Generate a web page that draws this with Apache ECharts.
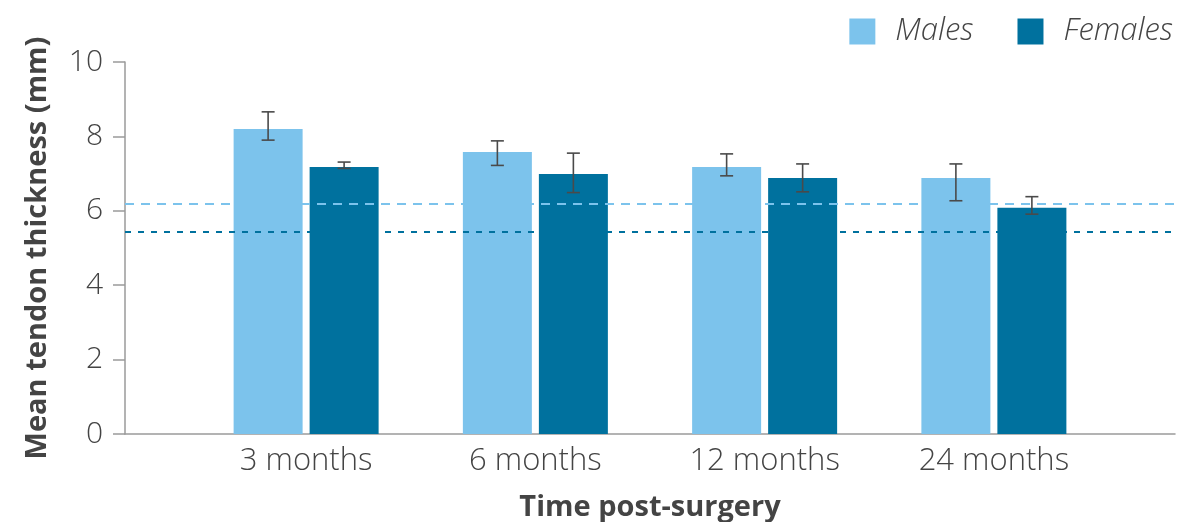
<!DOCTYPE html>
<html>
<head>
<meta charset="utf-8">
<script src="https://cdn.jsdelivr.net/npm/echarts@6/dist/echarts.min.js"></script>
<style>
  html, body { margin: 0; padding: 0; background: #fff; }
  #main { width: 1195px; height: 522px; }
</style>
</head>
<body>
<div id="main"></div>
<script>
// data
var categories = ['3 months', '6 months', '12 months', '24 months'];
var males = [8.2, 7.58, 7.18, 6.88];
var females = [7.18, 6.99, 6.88, 6.08];
var malesLow = [7.9, 7.22, 6.94, 6.27];
var malesHigh = [8.66, 7.88, 7.53, 7.26];
var femalesLow = [7.14, 6.49, 6.51, 5.91];
var femalesHigh = [7.31, 7.55, 7.26, 6.38];
var malesRef = 6.18;
var femalesRef = 5.43;
var yTicks = [0, 2, 4, 6, 8, 10];

var lightBlue = '#7cc3ec';
var darkBlue = '#00719e';
var textColor = '#444';
var axisColor = '#9a9a9a';
var barW = 69, barGapPx = 7;

var myChart = echarts.init(document.getElementById('main'));

function pairs(vals) {
    return vals.map(function (v, i) { return [i, v]; });
}
function errData(lo, hi) {
    return lo.map(function (v, i) { return [i, v, hi[i]]; });
}
// error bars, shifted to the centre of each bar
function errRender(shift) {
    return function (params, api) {
        var top = api.coord([api.value(0), api.value(2)]);
        var bot = api.coord([api.value(0), api.value(1)]);
        var x = top[0] + shift;
        var half = 6.5;
        var st = { stroke: '#4a4a4a', lineWidth: 1.6 };
        return {
            type: 'group',
            children: [
                { type: 'line', shape: { x1: x, y1: top[1], x2: x, y2: bot[1] }, style: st },
                { type: 'line', shape: { x1: x - half, y1: top[1], x2: x + half, y2: top[1] }, style: st },
                { type: 'line', shape: { x1: x - half, y1: bot[1], x2: x + half, y2: bot[1] }, style: st }
            ]
        };
    };
}

var option = {
    animation: false,
    textStyle: { fontFamily: 'Open Sans' },
    legend: {
        data: ['Males', 'Females'],
        right: 22,
        top: 16,
        padding: 0,
        itemWidth: 26,
        itemHeight: 26,
        itemGap: 44,
        icon: 'rect',
        textStyle: { fontSize: 31, fontStyle: 'italic', fontWeight: 300, color: textColor, padding: [0, 0, 0, 15] }
    },
    grid: { left: 125, right: 20, top: 62, bottom: 88, outerBoundsMode: 'none', containLabel: false },
    xAxis: {
        type: 'value',
        min: -0.79,
        max: 3.79,
        name: 'Time post-surgery',
        nameLocation: 'middle',
        nameGap: 59,
        nameTextStyle: { fontSize: 29, fontWeight: 'bold', color: textColor },
        axisLine: { show: true, onZero: false, lineStyle: { color: axisColor, width: 1.5 } },
        axisTick: { show: false },
        splitLine: { show: false },
        axisLabel: {
            customValues: [0, 1, 2, 3],
            formatter: function (v) { return categories[Math.round(v)]; },
            fontSize: 31,
            fontWeight: 300,
            color: textColor,
            margin: 12
        }
    },
    yAxis: {
        type: 'value',
        min: 0,
        max: 10,
        interval: 2,
        name: 'Mean tendon thickness (mm)',
        nameLocation: 'middle',
        nameGap: 73,
        nameTextStyle: { fontSize: 29, fontWeight: 'bold', color: textColor },
        axisLine: { show: true, onZero: false, lineStyle: { color: axisColor, width: 1.5 } },
        axisTick: { show: true, length: 12, lineStyle: { color: axisColor, width: 1.5 } },
        splitLine: { show: false },
        axisLabel: {
            customValues: yTicks,
            fontSize: 30,
            fontWeight: 300,
            color: textColor,
            margin: 22
        }
    },
    series: [
        {
            name: 'Males',
            type: 'bar',
            barWidth: barW,
            barGap: (barGapPx / barW * 100) + '%',
            itemStyle: { color: lightBlue },
            data: pairs(males),
            markLine: {
                silent: true,
                symbol: 'none',
                label: { show: false },
                lineStyle: { color: lightBlue, type: [9, 7], width: 2 },
                data: [{ yAxis: malesRef }]
            },
            z: 2
        },
        {
            name: 'Females',
            type: 'bar',
            barWidth: barW,
            itemStyle: { color: darkBlue },
            data: pairs(females),
            markLine: {
                silent: true,
                symbol: 'none',
                label: { show: false },
                lineStyle: { color: darkBlue, type: [6, 7], width: 2 },
                data: [{ yAxis: femalesRef }]
            },
            z: 2
        },
        {
            type: 'custom',
            renderItem: errRender(-(barW + barGapPx) / 2),
            data: errData(malesLow, malesHigh),
            z: 5
        },
        {
            type: 'custom',
            renderItem: errRender((barW + barGapPx) / 2),
            data: errData(femalesLow, femalesHigh),
            z: 5
        }
    ]
};
myChart.setOption(option);
</script>
</body>
</html>
